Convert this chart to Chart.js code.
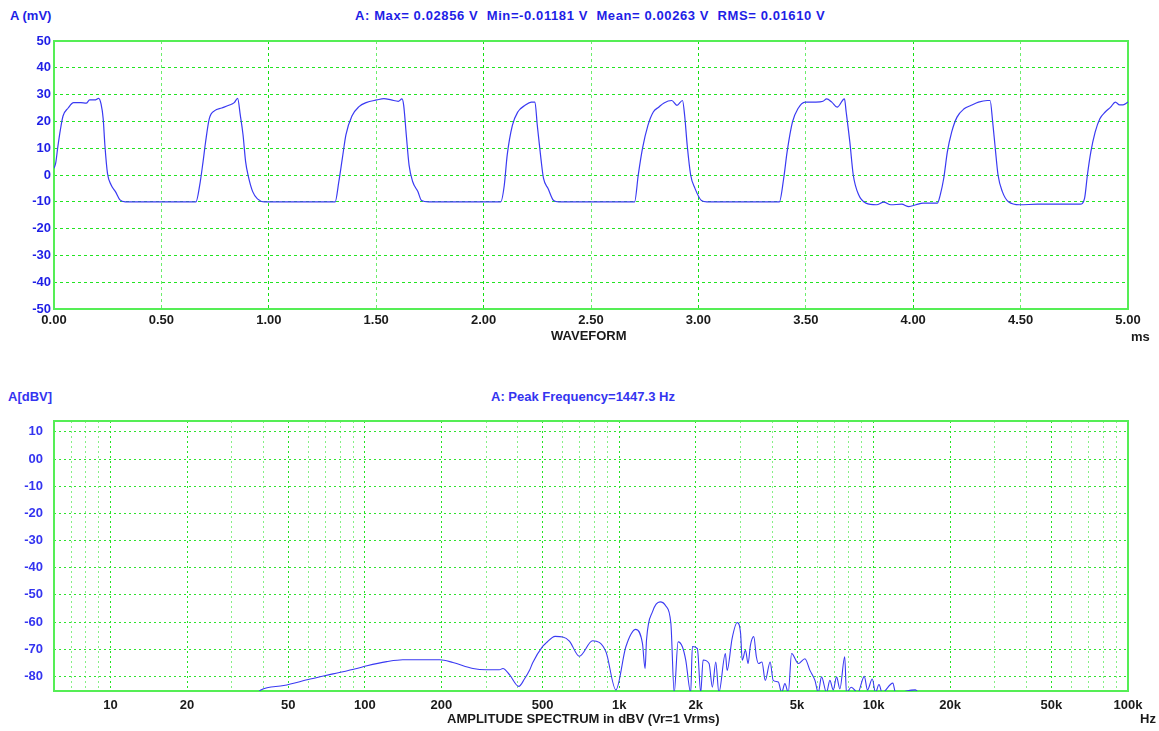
<!DOCTYPE html>
<html>
<head>
<meta charset="utf-8">
<script src="https://cdn.jsdelivr.net/npm/chart.js@4.4.0/dist/chart.umd.min.js"></script>
<style>
  body { margin: 0; background: #fff; width: 1159px; height: 731px; position: relative; overflow: hidden;
         font-family: "Liberation Sans", Arial, sans-serif; font-weight: bold; }
  .lbl { position: absolute; font-size: 13px; line-height: 13px; white-space: nowrap; }
  .blue { color: #1e1ee6; }
  .soft { color: #3434f0; }
  .dark { color: #1a1a1a; }
  .wide { letter-spacing: 0.6px; }
  #wave { position: absolute; left: 0; top: 0; }
  #spec { position: absolute; left: 0; top: 360px; }
</style>
</head>
<body>

<div class="lbl blue" style="left:10px;top:9px">A (mV)</div>
<div class="lbl blue wide" style="left:355px;top:9px">A: Max= 0.02856 V&nbsp; Min=-0.01181 V&nbsp; Mean= 0.00263 V&nbsp; RMS= 0.01610 V</div>
<canvas id="wave" width="1159" height="345"></canvas>
<div class="lbl dark" style="left:551px;top:329px">WAVEFORM</div>
<div class="lbl dark" style="left:1131px;top:330px">ms</div>

<div class="lbl soft" style="left:8px;top:390px">A[dBV]</div>
<div class="lbl soft" style="left:491px;top:390px">A: Peak Frequency=1447.3 Hz</div>
<canvas id="spec" width="1159" height="371"></canvas>
<div class="lbl dark" style="left:447px;top:712px">AMPLITUDE SPECTRUM in dBV (Vr=1 Vrms)</div>
<div class="lbl dark" style="left:1140px;top:712px">Hz</div>

<script>
// waveform, time in ms / level in mV
var waveTime = [
  0.000, 0.008, 0.017, 0.030, 0.042, 0.066, 0.091, 0.125, 0.150, 0.166, 0.190, 0.208, 0.219, 0.229, 0.237, 0.249, 0.266, 0.286, 0.307, 0.332,
  0.661, 0.678, 0.694, 0.706, 0.723, 0.748, 0.781, 0.814, 0.839, 0.855, 0.867, 0.880, 0.892, 0.905, 0.925, 0.947, 0.980,
  1.309, 1.326, 1.342, 1.359, 1.387, 1.420, 1.453, 1.503, 1.536, 1.570, 1.603, 1.620, 1.628, 1.640, 1.653, 1.670, 1.694, 1.711, 1.744,
  2.080, 2.096, 2.110, 2.134, 2.159, 2.193, 2.222, 2.239, 2.250, 2.267, 2.279, 2.300, 2.326, 2.350,
  2.703, 2.720, 2.740, 2.765, 2.790, 2.815, 2.840, 2.876, 2.900, 2.926, 2.936, 2.948, 2.964, 2.984, 3.014, 3.040,
  3.377, 3.397, 3.413, 3.438, 3.463, 3.497, 3.547, 3.580, 3.597, 3.621, 3.646, 3.680, 3.688, 3.705, 3.721, 3.746, 3.780, 3.829, 3.863, 3.896, 3.946, 3.980, 4.013, 4.046, 4.113, 4.126,
  4.142, 4.159, 4.179, 4.204, 4.237, 4.270, 4.304, 4.345, 4.358, 4.370, 4.382, 4.395, 4.415, 4.445, 4.495, 4.578, 4.661, 4.778, 4.798,
  4.811, 4.827, 4.847, 4.869, 4.894, 4.919, 4.941, 4.961, 4.977, 5.000
];
var waveMv = [
  2.5, 4.5, 10, 17, 22, 25, 27, 27, 26.8, 28, 28, 28.6, 26.5, 21, 11, 0.6, -3.7, -6.2, -9.3, -10,
  -10, -4, 5, 12.5, 21, 24, 25, 26, 27, 28.6, 22.5, 15, 5, -0.6, -6.2, -8.9, -10,
  -10, -2.5, 6, 15, 22, 25.5, 27, 28, 28.5, 28, 27.5, 28.4, 26, 15, 3.7, -2.5, -6.2, -9.5, -10,
  -10, -4, 7.5, 18.5, 23.5, 26, 27.2, 27.2, 18.5, 6, -1.3, -5, -9.5, -10,
  -10, 0, 10, 18.5, 23.5, 25.3, 26.9, 27.8, 26, 27.8, 22.2, 11, 0, -5, -9.5, -10,
  -10, -1.3, 8.6, 19.8, 24.7, 27.2, 27.2, 27.5, 28.4, 27.2, 25.3, 28.4, 23.5, 12.3, 0, -7.4, -10.5, -11.1, -10.1, -11.1, -10.9, -11.8, -11.1, -10.5, -10.5, -7.4,
  -1.3, 8.6, 16, 21.6, 24.7, 26, 27.2, 27.8, 27.8, 19.8, 10, 0, -6.2, -10.1, -11.1, -10.9, -10.9, -10.9, -8.6,
  0, 8.6, 16, 21, 23.5, 25.3, 27.2, 26.2, 26.2, 27.2
];

// spectrum, frequency in Hz / level in dBV
var specFreq = [
  38, 39, 48, 61, 75, 93, 102, 122, 141, 169, 197, 222, 266, 300, 338, 349, 371, 403, 424, 444, 457,
  500, 515, 560, 600, 637, 697, 786, 887, 970, 1062, 1162, 1234, 1264, 1280, 1352, 1447, 1525, 1596, 1645,
  1704, 1771, 1826, 1910, 1939, 2029, 2091, 2137, 2255, 2324, 2396, 2465, 2614, 2655, 2779, 2909, 3000,
  3044, 3136, 3210, 3280, 3380, 3460, 3530, 3640, 3750, 3920, 4030, 4220, 4350, 4480, 4620, 4760,
  5060, 5370, 5620, 5880, 6060, 6240, 6530, 6730, 6940, 7150, 7370, 7700, 7820, 8170, 8670, 9190,
  9460, 9880, 10170, 10500, 10800, 11900, 12200, 14600, 15000
];
var specDb = [
  -86, -85, -83.4, -81, -79.1, -77.1, -76.1, -74.6, -73.9, -73.9, -73.9, -74.9, -77.1, -77.6, -77.6, -77.1, -79.5, -83.7, -81, -77.8, -75,
  -69, -67.8, -65.3, -65.5, -67, -72.6, -66.9, -71, -85, -69.1, -62.7, -67.9, -77.2, -66.7, -56.2, -52.6, -54.1, -60.5, -86,
  -67.3, -69.1, -74, -86, -69, -69.8, -86, -74, -75.3, -84, -74.7, -86, -71.6, -77.8, -66, -60.2, -64.2,
  -74.1, -70.4, -75.3, -68.5, -65.4, -72.8, -75.3, -74.7, -81.5, -74.7, -81.5, -82.1, -86, -82.7, -86, -71.6,
  -75.3, -73.5, -77.8, -81.5, -86, -80.2, -86, -81.5, -85, -80.2, -84.6, -72.8, -86, -84, -86, -80,
  -85, -81, -86, -83, -86, -82.5, -86, -85, -86
];

// axis ticks
var waveXTicks = [0, 0.5, 1, 1.5, 2, 2.5, 3, 3.5, 4, 4.5, 5];
var waveYTicks = [-50, -40, -30, -20, -10, 0, 10, 20, 30, 40, 50];
var specYTicks = [-80, -70, -60, -50, -40, -30, -20, -10, 0, 10];
var specGridFreq = [7, 8, 9, 10, 20, 30, 40, 50, 60, 70, 80, 90, 100, 200, 300, 400, 500, 600, 700, 800, 900,
  1000, 2000, 3000, 4000, 5000, 6000, 7000, 8000, 9000, 10000, 20000, 30000, 40000, 50000, 60000, 70000, 80000, 90000, 100000];
var specFreqLabels = { 10: '10', 20: '20', 50: '50', 100: '100', 200: '200', 500: '500', 1000: '1k', 2000: '2k',
  5000: '5k', 10000: '10k', 20000: '20k', 50000: '50k', 100000: '100k' };

var lineBlue = '#3a3af2';
var tickFont = { family: '"Liberation Sans", Arial, sans-serif', size: 13, weight: 'bold' };

// solid green box round the plot area
var frame = {
  id: 'frame',
  beforeDatasetsDraw: function(chart) {
    var a = chart.chartArea, ctx = chart.ctx;
    ctx.save();
    ctx.strokeStyle = '#55ee55';
    ctx.lineWidth = 2;
    ctx.strokeRect(a.left, a.top, a.right - a.left, a.bottom - a.top);
    ctx.restore();
  }
};

function fixedTicks(list) {
  return function(axis) { axis.ticks = list.map(function(v) { return { value: v }; }); };
}

Chart.defaults.animation = false;

// ---- waveform
new Chart(document.getElementById('wave'), {
  type: 'line',
  data: {
    datasets: [{
      data: waveTime.map(function(t, i) { return { x: t, y: waveMv[i] }; }),
      borderColor: lineBlue, borderWidth: 1.2, pointRadius: 0,
      cubicInterpolationMode: 'monotone', fill: false
    }]
  },
  options: {
    responsive: false,
    events: [],
    layout: { padding: { top: 41, right: 31, left: 0, bottom: 0 } },
    plugins: { legend: { display: false }, tooltip: { enabled: false } },
    scales: {
      x: {
        type: 'linear', min: 0, max: 5,
        afterBuildTicks: fixedTicks(waveXTicks),
        afterFit: function(s) { s.height = 36; },
        ticks: { callback: function(v) { return v.toFixed(2); }, color: '#1a1a1a', font: tickFont,
                 padding: 4, maxRotation: 0, autoSkip: false },
        grid: { drawTicks: false,
                color: function(c) { return c.tick && c.tick.value % 1 === 0 ? '#14e014' : '#6cee6c'; } },
        border: { display: false, dash: [3, 3] }
      },
      y: {
        min: -50, max: 50,
        afterBuildTicks: fixedTicks(waveYTicks),
        afterFit: function(s) { s.width = 54; },
        ticks: { color: '#1e1ee6', font: tickFont, padding: 3 },
        grid: { drawTicks: false, color: '#22e422' },
        border: { display: false, dash: [3, 3] }
      }
    }
  },
  plugins: [frame]
});

// ---- amplitude spectrum
new Chart(document.getElementById('spec'), {
  type: 'line',
  data: {
    datasets: [{
      data: specFreq.map(function(f, i) { return { x: f, y: specDb[i] }; }),
      borderColor: lineBlue, borderWidth: 1.1, pointRadius: 0,
      cubicInterpolationMode: 'monotone', fill: false
    }]
  },
  options: {
    responsive: false,
    events: [],
    layout: { padding: { top: 61, right: 31, left: 0, bottom: 0 } },
    plugins: { legend: { display: false }, tooltip: { enabled: false } },
    scales: {
      x: {
        type: 'logarithmic', min: 6, max: 100000,
        afterBuildTicks: fixedTicks(specGridFreq),
        afterFit: function(s) { s.height = 40; },
        ticks: { callback: function(v) { return specFreqLabels[v] || ''; }, color: '#1a1a1a', font: tickFont,
                 padding: 7, maxRotation: 0, autoSkip: false },
        grid: { drawTicks: false,
                color: function(c) { return c.tick && specFreqLabels[c.tick.value] ? '#22e422' : '#86f086'; } },
        border: { display: false, dash: [2, 3] }
      },
      y: {
        min: -85.4, max: 14,
        afterBuildTicks: fixedTicks(specYTicks),
        afterFit: function(s) { s.width = 54; },
        ticks: { callback: function(v) { return v === 0 ? '00' : String(v); }, color: '#3434f0', font: tickFont, padding: 11 },
        grid: { drawTicks: false, color: '#2ee42e' },
        border: { display: false, dash: [2, 3] }
      }
    }
  },
  plugins: [frame]
});
</script>
</body>
</html>
